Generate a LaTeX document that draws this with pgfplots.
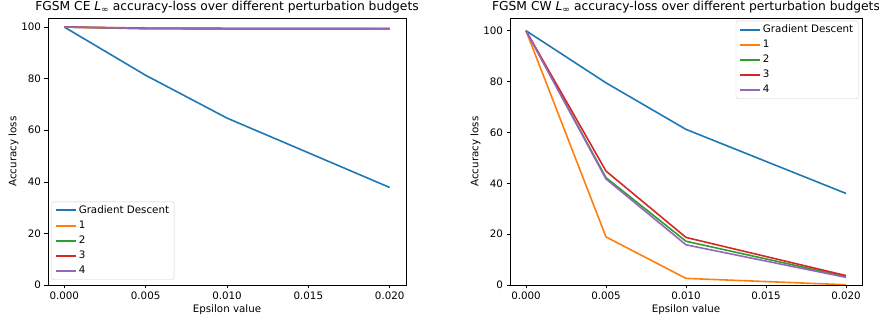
\documentclass[border=0pt]{standalone}
\usepackage{pgfplots}
\pgfplotsset{compat=1.18}
\usepackage{fontspec}
\setmainfont{DejaVu Sans}
\definecolor{c0}{HTML}{1F77B4}
\definecolor{c1}{HTML}{FF7F0E}
\definecolor{c2}{HTML}{2CA02C}
\definecolor{c3}{HTML}{D62728}
\definecolor{c4}{HTML}{9467BD}
\pgfplotsset{
  myaxis/.style={
    scale only axis,
    height=267pt,
    xmin=-0.001, xmax=0.021,
    ymin=0,
    xtick={0,0.005,0.01,0.015,0.02},
    ytick={0,20,40,60,80,100},
    xticklabel style={/pgf/number format/.cd,fixed,fixed zerofill,precision=3},
    /pgf/number format/assume math mode=true,
    scaled x ticks=false,
    tick align=outside,
    tick pos=left,
    major tick length=3.5pt,
    tick style={black, line width=0.6pt},
    axis line style={line width=0.6pt},
    ticklabel style={font=\fontsize{10.3}{12}\selectfont},
    label style={font=\fontsize{10.3}{12}\selectfont},
    title style={font=\fontsize{12.3}{14}\selectfont, yshift=-5pt},
    xlabel={Epsilon value},
    ylabel={Accuracy loss},
    xlabel style={yshift=2pt},
    ylabel style={yshift=-4pt},
    legend cell align=left,
    legend style={font=\fontsize{10.3}{12}\selectfont, draw=black!20, rounded corners=2pt,
      inner xsep=3pt, inner ysep=2pt, row sep=2pt},
    legend image code/.code={\draw[#1, line width=2pt] (0pt,0pt) -- (20pt,0pt);},
  }
}
\begin{document}
\begin{tikzpicture}[x=1pt,y=1pt]
\useasboundingbox (0,0) rectangle (879,324);
\begin{axis}[myaxis, at={(48pt,39pt)}, anchor=south west, width=358pt, ymax=103.5,
  title={FGSM CE \textit{L}\textsubscript{∞} accuracy-loss over different perturbation budgets},
  legend style={at={(0.01,0.02)}, anchor=south west}]
\addplot[c0, line width=1.6pt] coordinates {(0,100) (0.005,81.3) (0.01,64.7) (0.02,37.8)};
\addplot[c1, line width=1.6pt] coordinates {(0,100) (0.005,99.3) (0.01,99.2) (0.02,99.2)};
\addplot[c2, line width=1.6pt] coordinates {(0,100) (0.005,99.4) (0.01,99.4) (0.02,99.4)};
\addplot[c3, line width=1.6pt] coordinates {(0,100) (0.005,99.6) (0.01,99.5) (0.02,99.5)};
\addplot[c4, line width=1.6pt] coordinates {(0,100) (0.005,99.5) (0.01,99.4) (0.02,99.3)};
\legend{Gradient Descent,1,2,3,4}
\end{axis}
\begin{axis}[myaxis, at={(510pt,39pt)}, anchor=south west, width=352pt, ymax=105,
  title={FGSM CW \textit{L}\textsubscript{∞} accuracy-loss over different perturbation budgets},
  legend style={at={(0.99,0.99)}, anchor=north east}]
\addplot[c0, line width=1.6pt] coordinates {(0,100) (0.005,79.5) (0.01,61.2) (0.02,36.0)};
\addplot[c1, line width=1.6pt] coordinates {(0,100) (0.005,18.9) (0.01,2.6) (0.02,0.1)};
\addplot[c2, line width=1.6pt] coordinates {(0,100) (0.005,42.2) (0.01,17.2) (0.02,3.3)};
\addplot[c3, line width=1.6pt] coordinates {(0,100) (0.005,44.8) (0.01,18.7) (0.02,3.7)};
\addplot[c4, line width=1.6pt] coordinates {(0,100) (0.005,41.7) (0.01,15.8) (0.02,3.0)};
\legend{Gradient Descent,1,2,3,4}
\end{axis}
\end{tikzpicture}
\end{document}
